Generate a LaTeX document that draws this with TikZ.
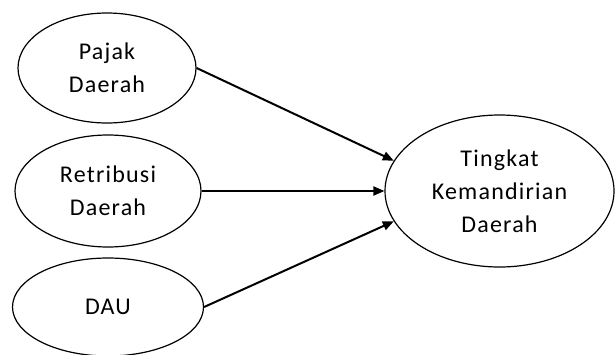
\documentclass[tikz,border=0pt]{standalone}
\usepackage{fontspec}
\setmainfont{Carlito}[LetterSpace=5]
\usetikzlibrary{shapes.geometric,arrows.meta}
\tikzset{
  varbox/.style={draw, ellipse, line width=1.2pt, inner sep=0pt, align=center,
    font=\fontsize{24}{33}\selectfont},
  panah/.style={line width=2pt, -{Triangle[length=11pt,width=9pt]}}
}
\begin{document}
\begin{tikzpicture}[x=1pt,y=-1pt]
\useasboundingbox (0,0) rectangle (615,354);
\node[varbox, minimum width=178pt, minimum height=110pt] (pajak) at (107,68) {Pajak\\Daerah};
\node[varbox, minimum width=186pt, minimum height=112pt] (retribusi) at (108,191) {Retribusi\\Daerah};
\node[varbox, minimum width=191pt, minimum height=98pt] (dau) at (108,307) {DAU};
\node[varbox, minimum width=229pt, minimum height=152pt] (tingkat) at (499.5,191) {Tingkat\\Kemandirian\\Daerah};
\draw[panah] (pajak.east) -- (tingkat.164);
\draw[panah] (retribusi.east) -- (tingkat.west);
\draw[panah] (dau.east) -- (tingkat.196);
\end{tikzpicture}
\end{document}
